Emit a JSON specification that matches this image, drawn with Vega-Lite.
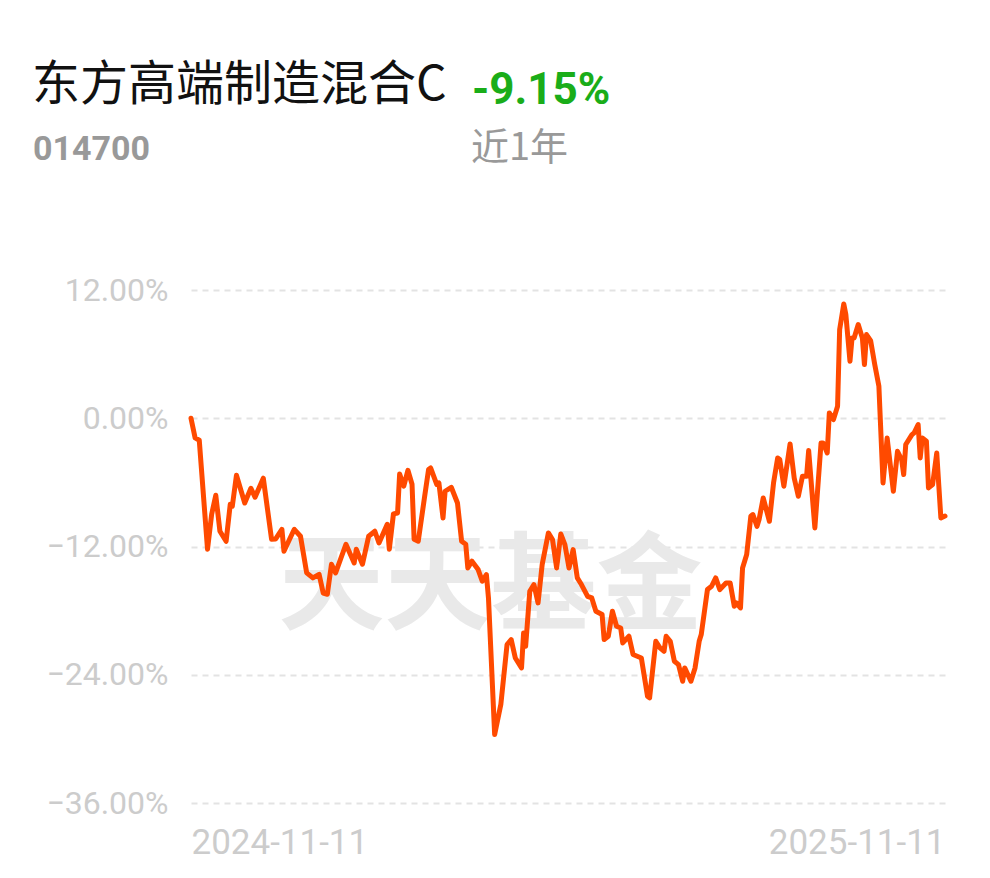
{
  "$schema": "https://vega.github.io/schema/vega-lite/v6.json",
  "width": 754,
  "height": 513,
  "autosize": {"type": "none"},
  "padding": {"left": 191, "top": 290, "right": 45, "bottom": 75},
  "background": "#ffffff",
  "config": {"view": {"stroke": null}},
  "datasets": {
    "nav": [
      {"date": "2024-11-11", "pct": 0.0},
      {"date": "2024-11-13", "pct": -1.84},
      {"date": "2024-11-15", "pct": -2.06},
      {"date": "2024-11-19", "pct": -12.26},
      {"date": "2024-11-21", "pct": -8.98},
      {"date": "2024-11-23", "pct": -7.2},
      {"date": "2024-11-25", "pct": -10.57},
      {"date": "2024-11-28", "pct": -11.51},
      {"date": "2024-11-30", "pct": -8.05},
      {"date": "2024-12-01", "pct": -8.23},
      {"date": "2024-12-03", "pct": -5.33},
      {"date": "2024-12-07", "pct": -7.93},
      {"date": "2024-12-10", "pct": -6.55},
      {"date": "2024-12-12", "pct": -7.39},
      {"date": "2024-12-16", "pct": -5.61},
      {"date": "2024-12-20", "pct": -11.32},
      {"date": "2024-12-22", "pct": -11.29},
      {"date": "2024-12-25", "pct": -10.39},
      {"date": "2024-12-26", "pct": -12.44},
      {"date": "2024-12-29", "pct": -11.2},
      {"date": "2024-12-31", "pct": -10.39},
      {"date": "2025-01-03", "pct": -11.04},
      {"date": "2025-01-06", "pct": -14.47},
      {"date": "2025-01-09", "pct": -14.94},
      {"date": "2025-01-12", "pct": -14.6},
      {"date": "2025-01-14", "pct": -16.35},
      {"date": "2025-01-16", "pct": -16.47},
      {"date": "2025-01-18", "pct": -13.66},
      {"date": "2025-01-20", "pct": -14.47},
      {"date": "2025-01-25", "pct": -11.79},
      {"date": "2025-01-29", "pct": -13.54},
      {"date": "2025-01-30", "pct": -12.26},
      {"date": "2025-02-02", "pct": -13.66},
      {"date": "2025-02-05", "pct": -11.04},
      {"date": "2025-02-08", "pct": -10.57},
      {"date": "2025-02-10", "pct": -11.67},
      {"date": "2025-02-14", "pct": -9.92},
      {"date": "2025-02-15", "pct": -12.26},
      {"date": "2025-02-17", "pct": -8.95},
      {"date": "2025-02-19", "pct": -8.86},
      {"date": "2025-02-20", "pct": -5.21},
      {"date": "2025-02-22", "pct": -6.36},
      {"date": "2025-02-24", "pct": -4.87},
      {"date": "2025-02-26", "pct": -6.18},
      {"date": "2025-02-27", "pct": -11.32},
      {"date": "2025-03-01", "pct": -11.51},
      {"date": "2025-03-04", "pct": -7.46},
      {"date": "2025-03-06", "pct": -4.8},
      {"date": "2025-03-07", "pct": -4.65},
      {"date": "2025-03-10", "pct": -6.2},
      {"date": "2025-03-11", "pct": -6.05},
      {"date": "2025-03-13", "pct": -9.33},
      {"date": "2025-03-14", "pct": -6.83},
      {"date": "2025-03-17", "pct": -6.46},
      {"date": "2025-03-20", "pct": -7.93},
      {"date": "2025-03-22", "pct": -11.51},
      {"date": "2025-03-24", "pct": -11.79},
      {"date": "2025-03-25", "pct": -14.01},
      {"date": "2025-03-27", "pct": -13.38},
      {"date": "2025-03-30", "pct": -14.16},
      {"date": "2025-04-01", "pct": -15.25},
      {"date": "2025-04-03", "pct": -14.63},
      {"date": "2025-04-04", "pct": -16.81},
      {"date": "2025-04-07", "pct": -29.6},
      {"date": "2025-04-10", "pct": -26.76},
      {"date": "2025-04-13", "pct": -21.17},
      {"date": "2025-04-15", "pct": -20.71},
      {"date": "2025-04-17", "pct": -22.43},
      {"date": "2025-04-20", "pct": -23.36},
      {"date": "2025-04-21", "pct": -20.09},
      {"date": "2025-04-22", "pct": -21.33},
      {"date": "2025-04-24", "pct": -16.19},
      {"date": "2025-04-26", "pct": -15.56},
      {"date": "2025-04-28", "pct": -17.28},
      {"date": "2025-04-30", "pct": -13.69},
      {"date": "2025-05-03", "pct": -10.73},
      {"date": "2025-05-05", "pct": -11.35},
      {"date": "2025-05-07", "pct": -14.01},
      {"date": "2025-05-09", "pct": -10.83},
      {"date": "2025-05-11", "pct": -11.82},
      {"date": "2025-05-13", "pct": -14.01},
      {"date": "2025-05-15", "pct": -12.29},
      {"date": "2025-05-17", "pct": -14.94},
      {"date": "2025-05-19", "pct": -15.56},
      {"date": "2025-05-22", "pct": -16.66},
      {"date": "2025-05-24", "pct": -16.81},
      {"date": "2025-05-26", "pct": -18.06},
      {"date": "2025-05-29", "pct": -18.37},
      {"date": "2025-05-30", "pct": -20.71},
      {"date": "2025-06-01", "pct": -20.4},
      {"date": "2025-06-03", "pct": -18.06},
      {"date": "2025-06-05", "pct": -19.46},
      {"date": "2025-06-07", "pct": -19.62},
      {"date": "2025-06-08", "pct": -21.02},
      {"date": "2025-06-11", "pct": -20.4},
      {"date": "2025-06-13", "pct": -22.11},
      {"date": "2025-06-15", "pct": -22.27},
      {"date": "2025-06-17", "pct": -22.43},
      {"date": "2025-06-20", "pct": -26.01},
      {"date": "2025-06-21", "pct": -26.17},
      {"date": "2025-06-24", "pct": -20.87},
      {"date": "2025-06-26", "pct": -21.49},
      {"date": "2025-06-28", "pct": -21.8},
      {"date": "2025-06-29", "pct": -20.4},
      {"date": "2025-07-01", "pct": -20.87},
      {"date": "2025-07-03", "pct": -22.74},
      {"date": "2025-07-05", "pct": -23.05},
      {"date": "2025-07-07", "pct": -24.61},
      {"date": "2025-07-08", "pct": -23.36},
      {"date": "2025-07-11", "pct": -24.61},
      {"date": "2025-07-13", "pct": -23.36},
      {"date": "2025-07-15", "pct": -20.87},
      {"date": "2025-07-16", "pct": -20.24},
      {"date": "2025-07-19", "pct": -16.03},
      {"date": "2025-07-21", "pct": -15.72},
      {"date": "2025-07-23", "pct": -14.94},
      {"date": "2025-07-25", "pct": -16.03},
      {"date": "2025-07-28", "pct": -15.41},
      {"date": "2025-07-30", "pct": -15.41},
      {"date": "2025-08-01", "pct": -17.59},
      {"date": "2025-08-02", "pct": -17.28},
      {"date": "2025-08-04", "pct": -17.75},
      {"date": "2025-08-05", "pct": -14.01},
      {"date": "2025-08-07", "pct": -12.75},
      {"date": "2025-08-09", "pct": -9.17},
      {"date": "2025-08-10", "pct": -9.01},
      {"date": "2025-08-12", "pct": -10.11},
      {"date": "2025-08-13", "pct": -9.48},
      {"date": "2025-08-15", "pct": -7.46},
      {"date": "2025-08-18", "pct": -9.64},
      {"date": "2025-08-20", "pct": -6.05},
      {"date": "2025-08-22", "pct": -3.71},
      {"date": "2025-08-23", "pct": -3.86},
      {"date": "2025-08-25", "pct": -6.36},
      {"date": "2025-08-28", "pct": -2.4},
      {"date": "2025-08-30", "pct": -5.59},
      {"date": "2025-09-01", "pct": -7.3},
      {"date": "2025-09-03", "pct": -5.43},
      {"date": "2025-09-05", "pct": -5.43},
      {"date": "2025-09-06", "pct": -3.02},
      {"date": "2025-09-09", "pct": -10.26},
      {"date": "2025-09-12", "pct": -2.31},
      {"date": "2025-09-13", "pct": -2.31},
      {"date": "2025-09-15", "pct": -3.25},
      {"date": "2025-09-16", "pct": 0.5},
      {"date": "2025-09-18", "pct": -0.12},
      {"date": "2025-09-20", "pct": 1.12},
      {"date": "2025-09-21", "pct": 8.3},
      {"date": "2025-09-23", "pct": 10.69},
      {"date": "2025-09-24", "pct": 9.7},
      {"date": "2025-09-26", "pct": 5.33},
      {"date": "2025-09-27", "pct": 7.51},
      {"date": "2025-09-28", "pct": 7.51},
      {"date": "2025-09-30", "pct": 8.77},
      {"date": "2025-10-02", "pct": 7.51},
      {"date": "2025-10-03", "pct": 5.02},
      {"date": "2025-10-04", "pct": 7.83},
      {"date": "2025-10-06", "pct": 7.27},
      {"date": "2025-10-08", "pct": 5.02},
      {"date": "2025-10-10", "pct": 2.99},
      {"date": "2025-10-12", "pct": -6.05},
      {"date": "2025-10-14", "pct": -1.84},
      {"date": "2025-10-17", "pct": -6.83},
      {"date": "2025-10-19", "pct": -3.09},
      {"date": "2025-10-21", "pct": -3.86},
      {"date": "2025-10-22", "pct": -5.27},
      {"date": "2025-10-23", "pct": -2.46},
      {"date": "2025-10-26", "pct": -1.53},
      {"date": "2025-10-27", "pct": -1.38},
      {"date": "2025-10-29", "pct": -0.59},
      {"date": "2025-10-30", "pct": -3.71},
      {"date": "2025-10-31", "pct": -1.84},
      {"date": "2025-11-02", "pct": -2.15},
      {"date": "2025-11-03", "pct": -6.52},
      {"date": "2025-11-05", "pct": -6.2},
      {"date": "2025-11-07", "pct": -3.25},
      {"date": "2025-11-09", "pct": -9.33},
      {"date": "2025-11-11", "pct": -9.15}
    ]
  },
  "layer": [
    {
      "data": {"values": [{"w": "天天基金"}]},
      "mark": {"type": "text", "font": "Noto Sans CJK SC", "fontWeight": "bold", "fontSize": 106, "color": "#e9e9e9", "align": "center", "baseline": "middle"},
      "encoding": {
        "x": {"datum": {"year": 2025, "month": 4, "date": 5, "utc": true}, "type": "temporal"},
        "y": {"datum": -16, "type": "quantitative"},
        "text": {"field": "w"}
      }
    },
    {
      "data": {"name": "nav"},
      "mark": {"type": "line", "color": "#ff4a00", "strokeWidth": 5, "strokeJoin": "round", "strokeCap": "round"},
      "encoding": {
        "x": {
          "field": "date",
          "type": "temporal",
          "scale": {"type": "utc", "domain": [{"year": 2024, "month": 11, "date": 11, "utc": true}, {"year": 2025, "month": 11, "date": 11, "utc": true}]},
          "axis": {
            "values": [{"year": 2024, "month": 11, "date": 11, "utc": true}, {"year": 2025, "month": 11, "date": 11, "utc": true}],
            "labelExpr": "utcFormat(datum.value, '%Y-%m-%d')",
            "labelFlush": true,
            "labelOverlap": false,
            "grid": false,
            "domain": false,
            "ticks": false,
            "tickSize": 0,
            "labelPadding": 22,
            "labelFont": "Roboto",
            "labelFontSize": 35,
            "labelColor": "#cccccc",
            "title": null
          }
        },
        "y": {
          "field": "pct",
          "type": "quantitative",
          "scale": {"domain": [-36, 12], "nice": false, "zero": false},
          "axis": {
            "values": [-36, -24, -12, 0, 12],
            "labelExpr": "format(datum.value, '.2f') + '%'",
            "title": null,
            "domain": false,
            "ticks": false,
            "tickSize": 0,
            "labelPadding": 23,
            "labelFont": "Roboto",
            "labelFontSize": 32,
            "labelColor": "#cccccc",
            "grid": true,
            "gridColor": "#e3e3e3",
            "gridDash": [6, 5],
            "gridWidth": 2
          }
        }
      }
    },
    {
      "data": {"values": [{"t": "东方高端制造混合C"}]},
      "mark": {"type": "text", "font": "Noto Sans CJK SC", "fontSize": 48, "color": "#111111", "align": "left", "baseline": "alphabetic"},
      "encoding": {"x": {"value": -159}, "y": {"value": -190}, "text": {"field": "t"}}
    },
    {
      "data": {"values": [{"t": "-9.15%"}]},
      "mark": {"type": "text", "font": "Roboto", "fontWeight": "bold", "fontSize": 44, "color": "#1aad19", "align": "left", "baseline": "alphabetic"},
      "encoding": {"x": {"value": 281}, "y": {"value": -186}, "text": {"field": "t"}}
    },
    {
      "data": {"values": [{"t": "014700"}]},
      "mark": {"type": "text", "font": "Roboto", "fontWeight": "bold", "fontSize": 34, "color": "#999999", "align": "left", "baseline": "alphabetic"},
      "encoding": {"x": {"value": -158}, "y": {"value": -130}, "text": {"field": "t"}}
    },
    {
      "data": {"values": [{"t": "近1年"}]},
      "mark": {"type": "text", "font": "Noto Sans CJK SC", "fontSize": 38, "color": "#999999", "align": "left", "baseline": "alphabetic"},
      "encoding": {"x": {"value": 280}, "y": {"value": -130}, "text": {"field": "t"}}
    }
  ]
}
